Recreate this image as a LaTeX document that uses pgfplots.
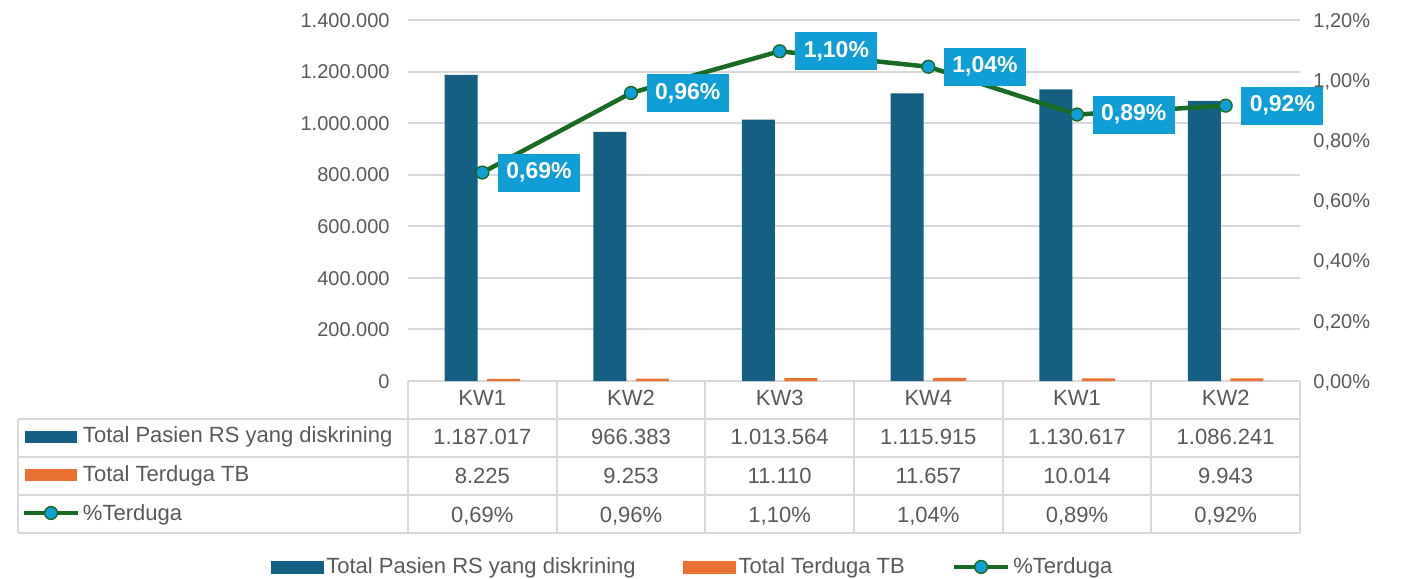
\documentclass[border=0pt]{standalone}
\usepackage{fontspec}
\setmainfont{Liberation Sans}
\usepackage{pgfplots}
\pgfplotsset{compat=1.18}

\definecolor{cBlue}{HTML}{156082}
\definecolor{cOrange}{HTML}{E97132}
\definecolor{cGreen}{HTML}{196B24}
\definecolor{cCyan}{HTML}{0F9ED5}
\definecolor{cText}{HTML}{595959}
\definecolor{cGrid}{HTML}{D9D9D9}

\pgfplotsset{
  base/.style={
    scale only axis, width=446pt, height=180.5pt,
    at={(0,0)}, anchor=south west,
    xmin=-0.5, xmax=5.5,
    axis line style={draw=none},
    major tick length=0pt,
    /pgf/number format/assume math mode=true,
    tick label style={font=\fontsize{10}{12}\selectfont, text=cText, inner sep=0pt},
    clip=false,
  },
}

\begin{document}
\begin{tikzpicture}[text=cText]
% left axis: bars
\begin{axis}[base, name=main,
  ymin=0, ymax=1400000,
  ytick={0,200000,400000,600000,800000,1000000,1200000,1400000},
  scaled y ticks=false,
  yticklabel style={/pgf/number format/fixed, /pgf/number format/1000 sep={.},
    anchor=base east, xshift=-9pt, yshift=-3.6pt},
  ymajorgrids, grid style={cGrid, line width=1pt},
  ybar=4.75pt, bar width=16.5pt,
  xtick={0,1,2,3,4,5},
  xticklabels={
    {KW1\\1.187.017\\8.225\\0,69\%},
    {KW2\\966.383\\9.253\\0,96\%},
    {KW3\\1.013.564\\11.110\\1,10\%},
    {KW4\\1.115.915\\11.657\\1,04\%},
    {KW1\\1.130.617\\10.014\\0,89\%},
    {KW2\\1.086.241\\9.943\\0,92\%}},
  xticklabel style={align=center, font=\fontsize{11}{19.5}\selectfont,
    anchor=north, yshift=-4.3pt},
]
\addplot[fill=cBlue, draw=none] coordinates
  {(0,1187017) (1,966383) (2,1013564) (3,1115915) (4,1130617) (5,1086241)};
\addplot[fill=cOrange, draw=none] coordinates
  {(0,8225) (1,9253) (2,11110) (3,11657) (4,10014) (5,9943)};
\end{axis}

% right axis: percentage line
\begin{axis}[base,
  ymin=0, ymax=1.2,
  ytick={0,0.2,0.4,0.6,0.8,1.0,1.2},
  yticklabel pos=right,
  yticklabel={\pgfmathprintnumber[fixed,fixed zerofill,precision=2,use comma]{\tick}\%},
  yticklabel style={anchor=base west, xshift=6.5pt, yshift=-3.6pt},
  xtick=\empty,
  legend style={at={(0.3195,-0.515)}, anchor=center, draw=none, fill=none,
    legend columns=-1, font=\fontsize{11}{13}\selectfont, text=cText,
    nodes={inner sep=1.5pt},
    /tikz/every even column/.append style={column sep=22pt}},
]
\addlegendimage{legend image code/.code={\fill[cBlue] (0pt,-3pt) rectangle (26pt,3pt);}}
\addlegendimage{legend image code/.code={\fill[cOrange] (0pt,-3pt) rectangle (26pt,3pt);}}
\addplot[cGreen, line width=2.25pt, mark=*, mark size=3.2pt,
  mark options={fill=cCyan, draw=cGreen, line width=0.7pt},
  legend image code/.code={
    \draw[cGreen, line width=2.25pt] (0pt,0pt) -- (27pt,0pt);
    \draw[cGreen, line width=0.7pt, fill=cCyan] (13.5pt,0pt) circle (3.2pt);},
  nodes near coords={\pgfmathprintnumber[fixed,fixed zerofill,precision=2,use comma]{\pgfplotspointmeta}\%},
  point meta=y,
  nodes near coords align=horizontal,
  every node near coord/.append style={anchor=west, xshift=7.5pt,
    fill=cCyan, text=white, font=\fontsize{11.5}{13}\selectfont\bfseries,
    minimum width=41pt, minimum height=19pt, inner sep=0pt},
] coordinates {(0,0.6929) (1,0.9575) (2,1.0961) (3,1.0446) (4,0.8857) (5,0.9153)};
\legend{Total Pasien RS yang diskrining, Total Terduga TB, \%Terduga}
\end{axis}

% data table grid and row headers
\begin{scope}[shift={(main.south west)}, font=\fontsize{11}{13}\selectfont]
  \foreach \y in {-19,-38,-57,-76}
    \draw[cGrid, line width=1pt] (-195pt,\y pt) -- (446pt,\y pt);
  \draw[cGrid, line width=1pt] (-195pt,-19pt) -- (-195pt,-76pt);
  \foreach \x in {0,74.333,148.667,223,297.333,371.667,446}
    \draw[cGrid, line width=1pt] (\x pt,0pt) -- (\x pt,-76pt);
  \fill[cBlue] (-191.5pt,-31pt) rectangle (-165.5pt,-25pt);
  \node[anchor=base west, inner sep=0pt] at (-162.7pt,-30.5pt) {Total Pasien RS yang diskrining};
  \fill[cOrange] (-191.5pt,-50pt) rectangle (-165.5pt,-44pt);
  \node[anchor=base west, inner sep=0pt] at (-162.7pt,-50pt) {Total Terduga TB};
  \draw[cGreen, line width=2.25pt] (-192pt,-66pt) -- (-165pt,-66pt);
  \draw[cGreen, line width=0.7pt, fill=cCyan] (-178.5pt,-66pt) circle (3.2pt);
  \node[anchor=base west, inner sep=0pt] at (-162.7pt,-69.5pt) {\%Terduga};
\end{scope}

\pgfresetboundingbox
\path (-204pt,-98.5pt) rectangle (502pt,190.5pt);
\end{tikzpicture}
\end{document}
